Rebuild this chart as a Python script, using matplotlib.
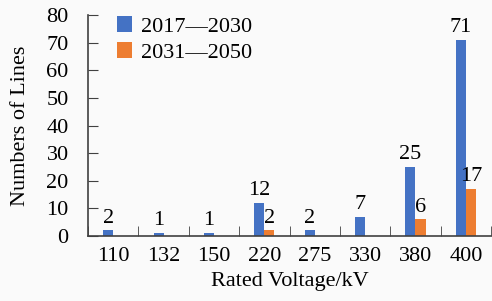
import matplotlib
matplotlib.use("Agg")
import matplotlib.pyplot as plt
import numpy as np

categories = ["110", "132", "150", "220", "275", "330", "380", "400"]
series1_name = "2017—2030"
series2_name = "2031—2050"
series1 = [2, 1, 1, 12, 2, 7, 25, 71]
series2 = [0, 0, 0, 2, 0, 0, 6, 17]

plt.rcParams['font.family'] = ['Liberation Serif', 'DejaVu Serif']
fs = 16
fig = plt.figure(figsize=(4.92, 3.01), dpi=100, facecolor='#fafafa')
ax = fig.add_axes([0.179, 0.216, 0.819, 0.734])
ax.set_facecolor('#fafafa')

x = np.arange(len(categories))
w = 0.2
b1 = ax.bar(x - w/2, series1, w, color='#4472C4', label=series1_name)
b2 = ax.bar(x + w/2, series2, w, color='#ED7D31', label=series2_name)
for rect, v in zip(b1, series1):
    if v:
        ax.text(rect.get_x() + rect.get_width()/2, v + 1.0, str(v), ha='center', va='bottom', fontsize=fs)
for rect, v in zip(b2, series2):
    if v:
        ax.text(rect.get_x() + rect.get_width()/2, v + 1.0, str(v), ha='center', va='bottom', fontsize=fs)

ax.set_xlim(-0.5, len(categories) - 0.5)
ax.set_ylim(0, 80)
ax.set_yticks(range(0, 81, 10))
ax.set_xticks(x)
ax.set_xticklabels(categories)
ax.set_xticks(np.arange(-0.5, len(categories), 1), minor=True)
ax.tick_params(axis='x', which='major', length=0, labelsize=fs, pad=8)
ax.tick_params(axis='x', which='minor', direction='in', length=7, color='#404040')
ax.tick_params(axis='y', direction='in', length=7, labelsize=fs, color='#404040', pad=14)
for s in ['top', 'right']:
    ax.spines[s].set_visible(False)
for s in ['left', 'bottom']:
    ax.spines[s].set_color('#404040')
    ax.spines[s].set_linewidth(1.2)

ax.set_xlabel('Rated Voltage/kV', fontsize=fs, labelpad=4)
ax.set_ylabel('Numbers of Lines', fontsize=fs, labelpad=12)
ax.legend(loc='upper left', bbox_to_anchor=(0.022, 1.085), frameon=False, fontsize=fs,
          handlelength=0.7, handleheight=0.7, handletextpad=0.4, labelspacing=0.25)

fig.savefig('out.png', dpi=100, facecolor=fig.get_facecolor())
